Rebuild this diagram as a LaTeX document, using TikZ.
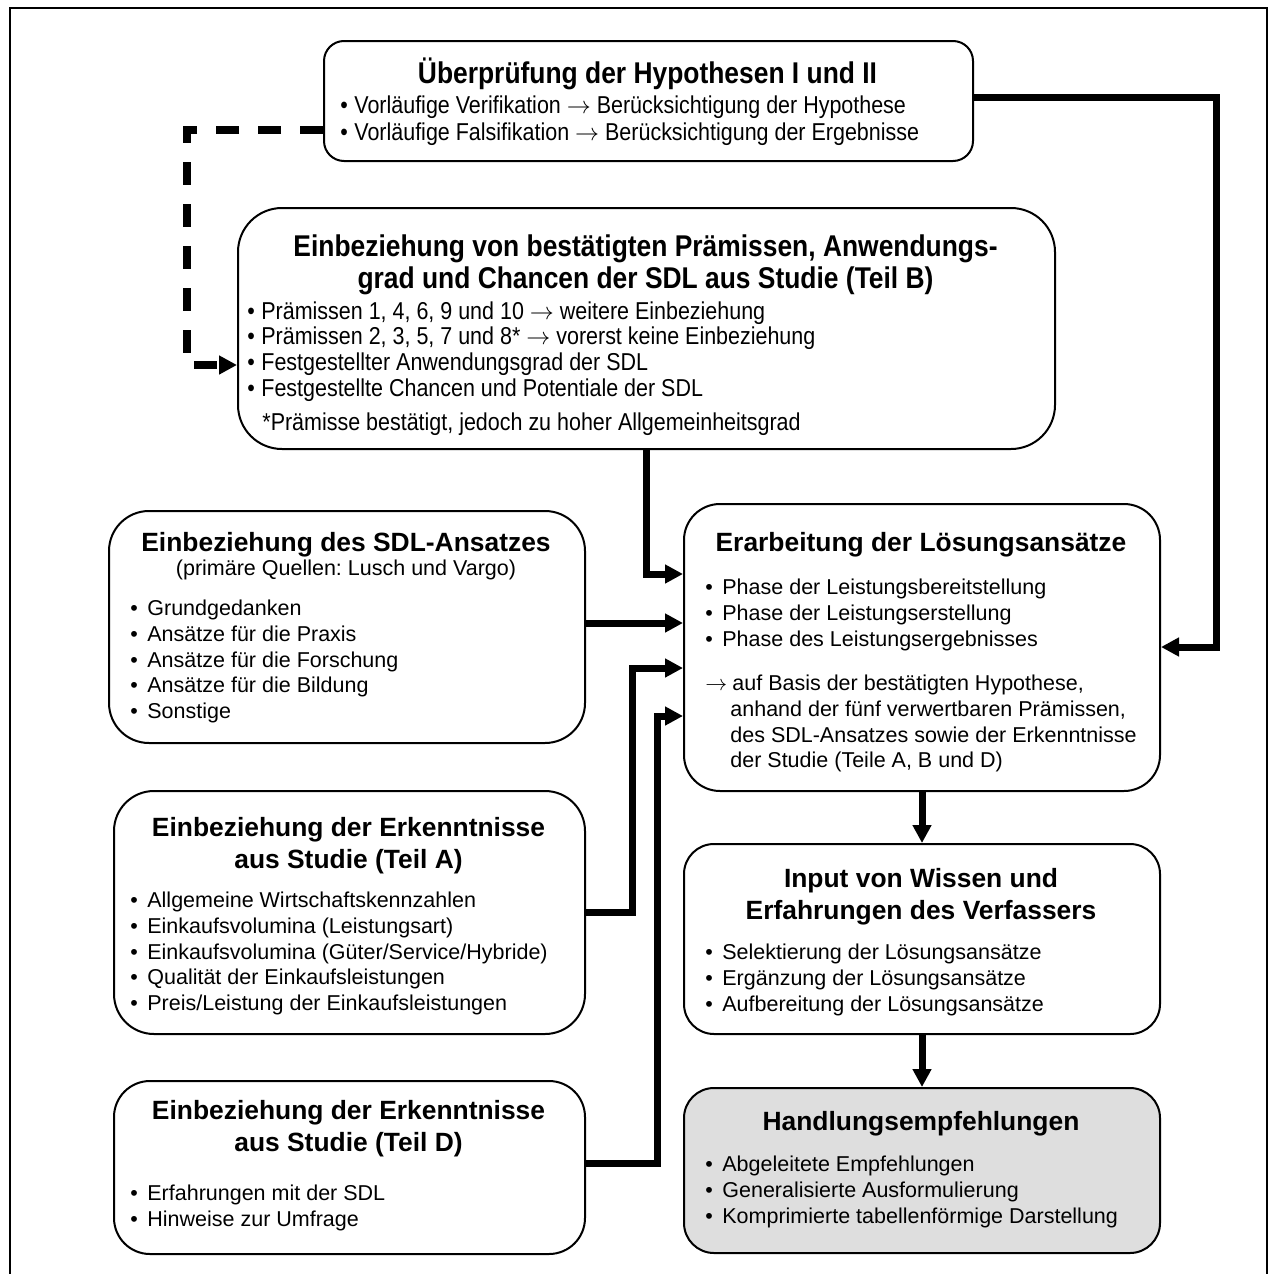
\documentclass[tikz,border=0pt]{standalone}
\usepackage{fontspec}
\setmainfont{Liberation Sans}
\newfontfamily\narrowfont[FakeStretch=0.88]{Liberation Sans}
\usetikzlibrary{arrows.meta}

% line blocks: baseline of the node is the baseline of the first line
\newcommand\lines[1]{\begin{tabular}[t]{@{}l@{}}#1\end{tabular}}
\newcommand\clines[1]{\begin{tabular}[t]{@{}c@{}}#1\end{tabular}}
\newcommand\bul{\makebox[8.5pt][l]{•}}
\newcommand\nbul{\makebox[7pt][l]{•}}
\newcommand\ar{$\rightarrow$}
\frenchspacing

\begin{document}
\begin{tikzpicture}[x=0.5pt, y=-0.5pt,
  box/.style={draw, line width=1pt, anchor=north west, inner sep=0pt, fill=white},
  txt/.style={inner sep=0pt, anchor=base west, font=\fontsize{10.75}{12.875}\selectfont},
  ttl/.style={inner sep=0pt, anchor=base, font=\bfseries\fontsize{13.2}{16}\selectfont},
  ntxt/.style={inner sep=0pt, anchor=base west, font=\narrowfont\fontsize{12.2}{13}\selectfont},
  nttl/.style={inner sep=0pt, anchor=base, font=\narrowfont\bfseries\fontsize{15}{16}\selectfont},
  arr/.style={line width=3.5pt, -{Triangle[length=9pt,width=9pt]}},
  darr/.style={line width=4pt, dash pattern=on 11.5pt off 9.5pt, -{Triangle[length=9pt,width=9pt]}}]

\useasboundingbox (0,0) rectangle (1272,1274);
\clip (0,0) rectangle (1272,1274);

% outer frame (open at the bottom of the page)
\draw[line width=1.3pt] (10,1300) -- (10,8) -- (1267,8) -- (1267,1300);

% ---------- boxes ----------
\node[box, minimum width=324.5pt, minimum height=60pt, rounded corners=10pt] (hyp) at (323,40) {};
\node[box, minimum width=408.5pt, minimum height=120.5pt, rounded corners=22pt] (teilB) at (237,207) {};
\node[box, minimum width=238pt, minimum height=116pt, rounded corners=20pt] (sdl) at (108,510) {};
\node[box, minimum width=238pt, minimum height=143.5pt, rounded corners=18pt] (erarb) at (683,503) {};
\node[box, minimum width=235.5pt, minimum height=121.5pt, rounded corners=20pt] (teilA) at (113,790) {};
\node[box, minimum width=238pt, minimum height=95pt, rounded corners=15pt] (input) at (683,843) {};
\node[box, minimum width=235.5pt, minimum height=86.5pt, rounded corners=18pt] (teilD) at (113,1080) {};
\node[box, minimum width=238pt, minimum height=82.5pt, rounded corners=15pt, fill=black!13] (handl) at (683,1087) {};

% ---------- texts ----------
\node[nttl] (hyp-t) at (647.5,83) {Überprüfung der Hypothesen I und II};
\node[ntxt, font=\narrowfont\fontsize{12.2}{13.5}\selectfont] (hyp-l) at (340,113) {\lines{%
  \nbul Vorläufige Verifikation \ar{} Berücksichtigung der Hypothese\\
  \nbul Vorläufige Falsifikation \ar{} Berücksichtigung der Ergebnisse}};

\node[nttl] (teilB-t) at (645.5,256) {\clines{Einbeziehung von bestätigten Prämissen, Anwendungs-\\
  grad und Chancen der SDL aus Studie (Teil B)}};
\node[ntxt, font=\narrowfont\fontsize{12.2}{12.85}\selectfont] (teilB-l) at (247,319) {\lines{%
  \nbul Prämissen 1, 4, 6, 9 und 10 \ar{} weitere Einbeziehung\\
  \nbul Prämissen 2, 3, 5, 7 und 8* \ar{} vorerst keine Einbeziehung\\
  \nbul Festgestellter Anwendungsgrad der SDL\\
  \nbul Festgestellte Chancen und Potentiale der SDL}};
\node[ntxt] (teilB-f) at (262,430) {*Prämisse bestätigt, jedoch zu hoher Allgemeinheitsgrad};

\node[ttl] (sdl-t) at (346,551.5) {Einbeziehung des SDL-Ansatzes};
\node[txt, anchor=base] (sdl-s) at (346,575.5) {(primäre Quellen: Lusch und Vargo)};
\node[txt] (sdl-l) at (130,615.5) {\lines{%
  \bul Grundgedanken\\
  \bul Ansätze für die Praxis\\
  \bul Ansätze für die Forschung\\
  \bul Ansätze für die Bildung\\
  \bul Sonstige}};

\node[ttl] (erarb-t) at (921,551.5) {Erarbeitung der Lösungsansätze};
\node[txt] (erarb-l) at (705,594.5) {\lines{%
  \bul Phase der Leistungsbereitstellung\\
  \bul Phase der Leistungserstellung\\
  \bul Phase des Leistungsergebnisses}};
\node[txt] (erarb-p) at (705,690.5) {\lines{%
  \makebox[13.5pt][l]{\ar}auf Basis der bestätigten Hypothese,\\
  \hspace{12.5pt}anhand der fünf verwertbaren Prämissen,\\
  \hspace{12.5pt}des SDL-Ansatzes sowie der Erkenntnisse\\
  \hspace{12.5pt}der Studie (Teile A, B und D)}};

\node[ttl] (teilA-t) at (348.5,836.5) {\clines{Einbeziehung der Erkenntnisse\\ aus Studie (Teil A)}};
\node[txt] (teilA-l) at (130,907.5) {\lines{%
  \bul Allgemeine Wirtschaftskennzahlen\\
  \bul Einkaufsvolumina (Leistungsart)\\
  \bul Einkaufsvolumina (Güter/Service/Hybride)\\
  \bul Qualität der Einkaufsleistungen\\
  \bul Preis/Leistung der Einkaufsleistungen}};

\node[ttl] (input-t) at (921,887.5) {\clines{Input von Wissen und\\ Erfahrungen des Verfassers}};
\node[txt, font=\fontsize{10.75}{13}\selectfont] (input-l) at (705,959.5) {\lines{%
  \bul Selektierung der Lösungsansätze\\
  \bul Ergänzung der Lösungsansätze\\
  \bul Aufbereitung der Lösungsansätze}};

\node[ttl] (teilD-t) at (348.5,1119.5) {\clines{Einbeziehung der Erkenntnisse\\ aus Studie (Teil D)}};
\node[txt, font=\fontsize{10.75}{13}\selectfont] (teilD-l) at (130,1200.5) {\lines{%
  \bul Erfahrungen mit der SDL\\
  \bul Hinweise zur Umfrage}};

\node[ttl] (handl-t) at (921,1130.5) {Handlungsempfehlungen};
\node[txt, font=\fontsize{10.75}{13}\selectfont] (handl-l) at (705,1171.5) {\lines{%
  \bul Abgeleitete Empfehlungen\\
  \bul Generalisierte Ausformulierung\\
  \bul Komprimierte tabellenförmige Darstellung}};

% ---------- connectors ----------
\draw[arr] (hyp.east |- 0,97) -- (1216,97) |- (erarb.east |- 0,647);
\draw[darr] (hyp.west |- 0,130) -- (187,130) |- (teilB.west |- 0,365);
\draw[arr] (teilB.south) |- (erarb.west |- 0,574);
\draw[arr] (sdl.east |- 0,623) -- (erarb.west |- 0,623);
\draw[arr] (teilA.east |- 0,912) -| (632,668) -- (erarb.west |- 0,668);
\draw[arr] (teilD.east |- 0,1163) -| (657,716) -- (erarb.west |- 0,716);
\draw[arr] (erarb.south) -- (input.north);
\draw[arr] (input.south) -- (handl.north);

\end{tikzpicture}
\end{document}
